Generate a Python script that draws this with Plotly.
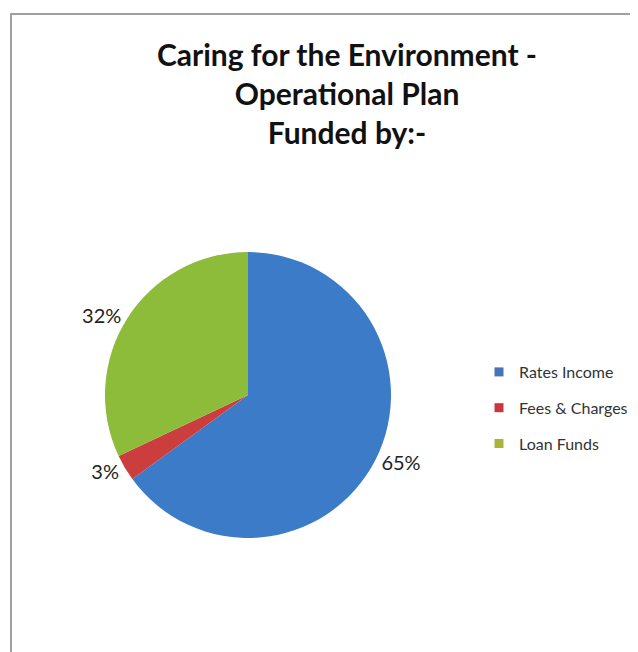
import plotly.graph_objects as go

labels = ["Rates Income", "Fees & Charges", "Loan Funds"]
values = [65, 3, 32]
colors = ["#3C7BC8", "#CC3E3E", "#8DBB3A"]
legend_colors = ["#4A72B8", "#C8363F", "#A8B43A"]

# page body has an 8px margin, so the figure sits at (8, 8) in the window
W, H = 630, 644
OFF = 8


def px(x):
    return (x - OFF) / W


def py(y):
    return 1 - (y - OFF) / H


fig = go.Figure()

fig.add_trace(go.Pie(
    labels=labels,
    values=values,
    sort=False,
    direction="clockwise",
    rotation=0,
    marker=dict(colors=colors, line=dict(width=0)),
    textposition="outside",
    texttemplate="%{value}%",
    textfont=dict(family="Lato", size=20, color="#222222"),
    hoverinfo="label+value",
    showlegend=False,
    domain=dict(x=[px(105), px(391)], y=[py(540), py(250)]),
))

# legend entries
for lab, col in zip(labels, legend_colors):
    fig.add_trace(go.Scatter(
        x=[None], y=[None], mode="markers", name=lab,
        legendgroup=lab,
        marker=dict(symbol="square", size=9, color=col),
        showlegend=True, hoverinfo="skip",
    ))

fig.update_layout(
    width=W, height=H,
    margin=dict(l=0, r=0, t=0, b=0),
    paper_bgcolor="white",
    plot_bgcolor="white",
    xaxis=dict(visible=False),
    yaxis=dict(visible=False),
    title=dict(
        text="<b>Caring for the Environment -<br>Operational Plan<br>Funded by:-</b>",
        x=px(347), xanchor="center",
        y=py(66), yanchor="top",
        font=dict(family="Lato", size=30, color="#111111"),
    ),
    legend=dict(
        x=px(479), xanchor="left",
        y=py(355), yanchor="top",
        font=dict(family="Lato", size=16, color="#333333"),
        bgcolor="rgba(0,0,0,0)",
        tracegroupgap=12,
        itemwidth=30,
    ),
    showlegend=True,
    shapes=[dict(
        type="rect", xref="paper", yref="paper",
        x0=px(11), x1=1.05, y0=-0.05, y1=py(14),
        line=dict(color="#A0A0A0", width=2),
        fillcolor="rgba(0,0,0,0)",
    )],
)

fig.write_html("out.html")
